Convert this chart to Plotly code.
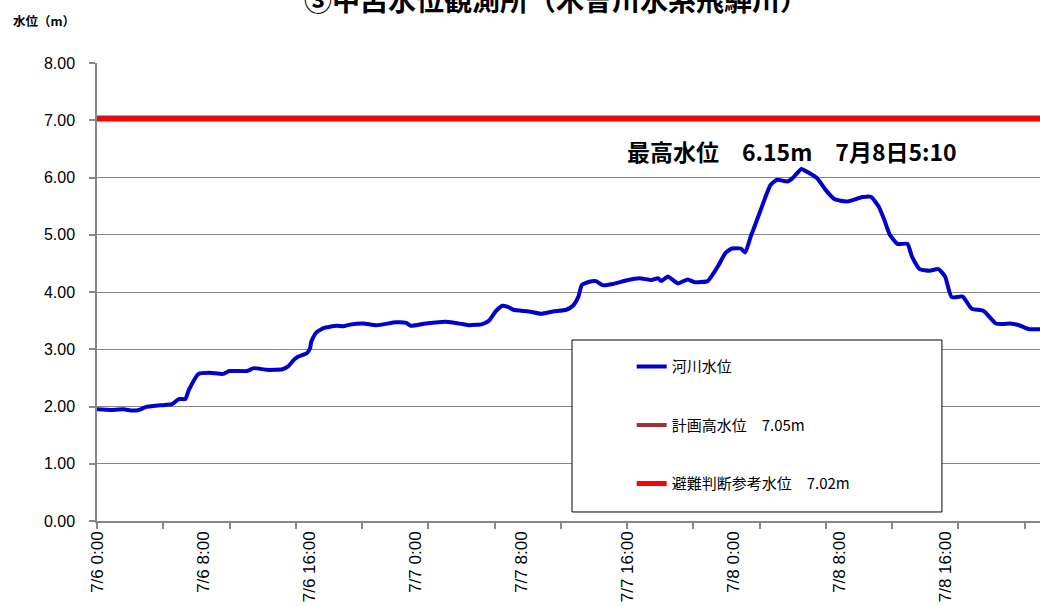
import plotly.graph_objects as go

# 河川水位 observations (time, level in m)
times = [
    "2018-07-06 00:00", "2018-07-06 01:00", "2018-07-06 02:00", "2018-07-06 02:40",
    "2018-07-06 03:10", "2018-07-06 03:40", "2018-07-06 04:45", "2018-07-06 05:40",
    "2018-07-06 06:10", "2018-07-06 06:40", "2018-07-06 06:55", "2018-07-06 07:40",
    "2018-07-06 08:30", "2018-07-06 09:30", "2018-07-06 10:00", "2018-07-06 11:20",
    "2018-07-06 11:50", "2018-07-06 12:50", "2018-07-06 14:00", "2018-07-06 14:25",
    "2018-07-06 14:50", "2018-07-06 15:10", "2018-07-06 15:50", "2018-07-06 16:05",
    "2018-07-06 16:10", "2018-07-06 16:30", "2018-07-06 17:05", "2018-07-06 18:05",
    "2018-07-06 18:35", "2018-07-06 19:05", "2018-07-06 20:05", "2018-07-06 21:05",
    "2018-07-06 22:35", "2018-07-06 23:20", "2018-07-06 23:40", "2018-07-07 00:50",
    "2018-07-07 02:20", "2018-07-07 03:35", "2018-07-07 04:05", "2018-07-07 05:05",
    "2018-07-07 05:35", "2018-07-07 06:05", "2018-07-07 06:35", "2018-07-07 07:00",
    "2018-07-07 07:25", "2018-07-07 08:35", "2018-07-07 09:30", "2018-07-07 10:25",
    "2018-07-07 11:25", "2018-07-07 11:55", "2018-07-07 12:20", "2018-07-07 12:35",
    "2018-07-07 13:10", "2018-07-07 13:40", "2018-07-07 14:10", "2018-07-07 14:55",
    "2018-07-07 15:55", "2018-07-07 16:55", "2018-07-07 17:50", "2018-07-07 18:20",
    "2018-07-07 18:35", "2018-07-07 19:05", "2018-07-07 19:50", "2018-07-07 20:35",
    "2018-07-07 21:05", "2018-07-07 22:05", "2018-07-07 22:20", "2018-07-07 22:55",
    "2018-07-07 23:25", "2018-07-07 23:55", "2018-07-08 00:35", "2018-07-08 00:55",
    "2018-07-08 01:20", "2018-07-08 01:40", "2018-07-08 02:05", "2018-07-08 02:30",
    "2018-07-08 02:50", "2018-07-08 03:20", "2018-07-08 04:05", "2018-07-08 04:30",
    "2018-07-08 05:10", "2018-07-08 05:35", "2018-07-08 06:20", "2018-07-08 07:00",
    "2018-07-08 07:40", "2018-07-08 08:35", "2018-07-08 09:15", "2018-07-08 09:45",
    "2018-07-08 10:25", "2018-07-08 11:00", "2018-07-08 11:25", "2018-07-08 11:50",
    "2018-07-08 12:25", "2018-07-08 13:10", "2018-07-08 13:30", "2018-07-08 14:05",
    "2018-07-08 14:50", "2018-07-08 15:30", "2018-07-08 16:00", "2018-07-08 16:30",
    "2018-07-08 17:20", "2018-07-08 18:00", "2018-07-08 18:55", "2018-07-08 19:50",
    "2018-07-08 20:25", "2018-07-08 20:55", "2018-07-08 21:35", "2018-07-08 22:20",
    "2018-07-08 23:05", "2018-07-08 23:30",
]
river_level = [
    1.95, 1.94, 1.95, 1.93,
    1.94, 1.99, 2.02, 2.04,
    2.13, 2.13, 2.28, 2.57,
    2.59, 2.57, 2.62, 2.62,
    2.67, 2.64, 2.65, 2.70,
    2.81, 2.87, 2.93, 3.02,
    3.13, 3.28, 3.37, 3.41,
    3.40, 3.43, 3.45, 3.42,
    3.47, 3.46, 3.41, 3.45,
    3.48, 3.44, 3.42, 3.44,
    3.50, 3.66, 3.76, 3.74,
    3.69, 3.66, 3.62, 3.66,
    3.69, 3.76, 3.92, 4.12,
    4.18, 4.19, 4.12, 4.14,
    4.20, 4.24, 4.21, 4.24,
    4.19, 4.27, 4.15, 4.22,
    4.17, 4.19, 4.26, 4.47,
    4.68, 4.76, 4.76, 4.69,
    4.97, 5.17, 5.43, 5.69,
    5.87, 5.96, 5.93, 5.99,
    6.15, 6.10, 5.99, 5.78,
    5.62, 5.58, 5.62, 5.66,
    5.66, 5.49, 5.26, 5.00,
    4.84, 4.84, 4.62, 4.40,
    4.37, 4.40, 4.27, 3.91,
    3.92, 3.71, 3.67, 3.45,
    3.44, 3.45, 3.42, 3.35,
    3.35, 3.34,
]

plan_high_level = 7.05      # 計画高水位
evac_ref_level = 7.02       # 避難判断参考水位

tick_times = [
    "2018-07-06 00:00", "2018-07-06 08:00", "2018-07-06 16:00",
    "2018-07-07 00:00", "2018-07-07 08:00", "2018-07-07 16:00",
    "2018-07-08 00:00", "2018-07-08 08:00", "2018-07-08 16:00",
]
tick_labels = [
    "7/6 0:00", "7/6 8:00", "7/6 16:00",
    "7/7 0:00", "7/7 8:00", "7/7 16:00",
    "7/8 0:00", "7/8 8:00", "7/8 16:00",
]

x_range = ["2018-07-06 00:00", "2018-07-08 23:10"]

GRID = "#878787"
JP = "Noto Sans CJK JP"
NUM = "Liberation Sans"

fig = go.Figure()

fig.add_trace(go.Scatter(
    x=times, y=river_level, mode="lines", name="河川水位",
    line=dict(color="#0000CC", width=4, shape="spline", smoothing=0.5),
    legendgroup="a",
))
# reference levels sit on the overlay axis that carries the date labels
fig.add_trace(go.Scatter(
    x=[times[0], times[-1]], y=[plan_high_level, plan_high_level], mode="lines",
    name="計画高水位　7.05m", line=dict(color="#953735", width=4),
    legendgroup="b", xaxis="x2",
))
fig.add_trace(go.Scatter(
    x=[times[0], times[-1]], y=[evac_ref_level, evac_ref_level], mode="lines",
    name="避難判断参考水位　7.02m", line=dict(color="#FF0000", width=5),
    legendgroup="c", xaxis="x2",
))

fig.update_layout(
    width=1040, height=606,
    margin=dict(l=97, r=0, t=63, b=85, autoexpand=False),
    paper_bgcolor="white", plot_bgcolor="white",
    showlegend=True,
    legend=dict(
        x=0.567, y=0.373, xanchor="left", yanchor="top",
        bgcolor="rgba(0,0,0,0)", borderwidth=0,
        font=dict(family=JP, size=15, color="black"),
        tracegroupgap=36, itemwidth=30,
    ),
    # main axis: tick marks every 5 hours, no labels
    xaxis=dict(
        type="date", range=x_range, automargin=False,
        tick0="2018-07-06 00:00", dtick=5 * 3600 * 1000,
        ticks="outside", ticklen=6, tickcolor=GRID, tickwidth=1.5,
        showticklabels=False,
        showline=True, linecolor=GRID, linewidth=1.5,
        showgrid=False, zeroline=False,
    ),
    # overlay axis: date labels every 8 hours
    xaxis2=dict(
        type="date", matches="x", overlaying="x", anchor="y", side="bottom",
        automargin=False,
        tickmode="array", tickvals=tick_times, ticktext=tick_labels,
        tickangle=-90, ticks="",
        tickfont=dict(family=NUM, size=17, color="black"),
        ticklabelstandoff=6,
        showline=False, showgrid=False, zeroline=False,
    ),
    yaxis=dict(
        range=[0, 8], dtick=1, tickformat=".2f", automargin=False,
        tickfont=dict(family=NUM, size=16, color="black"),
        ticks="outside", ticklen=6, tickcolor=GRID, tickwidth=1.5,
        ticklabelstandoff=11,
        showline=True, linecolor=GRID, linewidth=1.5,
        showgrid=True, gridcolor=GRID, gridwidth=1, zeroline=False,
    ),
    shapes=[dict(
        type="rect", xref="paper", yref="paper",
        x0=0.5037, x1=0.896, y0=0.0197, y1=0.3952,
        fillcolor="white", line=dict(color="black", width=1), layer="above",
    )],
    annotations=[
        dict(text="<b>③中呂水位観測所（木曽川水系飛騨川）</b>", xref="paper", yref="paper",
             x=(556 - 97) / 943, y=(521 + 1) / 458, xanchor="center", yanchor="middle",
             showarrow=False, font=dict(family=JP, size=28, color="black")),
        dict(text="<b>水位（m）</b>", xref="paper", yref="paper",
             x=(11 - 97) / 943, y=(521 - 21) / 458, xanchor="left", yanchor="middle",
             showarrow=False, font=dict(family=JP, size=12.5, color="black")),
        dict(text="<b>最高水位　6.15m　7月8日5:10</b>", xref="paper", yref="paper",
             x=(792 - 97) / 943, y=(521 - 151) / 458, xanchor="center", yanchor="middle",
             showarrow=False, font=dict(family=JP, size=23, color="black")),
    ],
)

fig.write_html("out.html", config={"displayModeBar": False},
               post_script="document.body.style.margin='0';")
